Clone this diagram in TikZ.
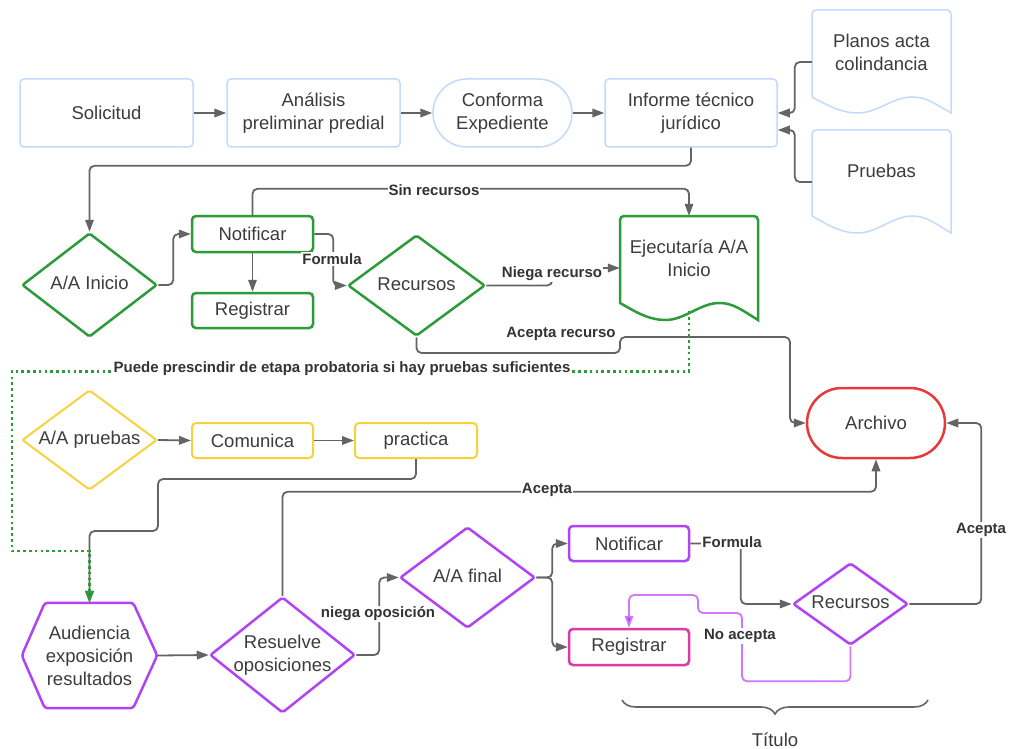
\documentclass[tikz,border=0pt]{standalone}
\usepackage{fontspec}
\setmainfont{Liberation Sans}
\usetikzlibrary{shapes.geometric,arrows.meta,calc,decorations.pathreplacing}
\definecolor{bluec}{HTML}{C4DAFD}
\definecolor{grnc}{HTML}{2E9B3B}
\definecolor{dgrnc}{HTML}{2F6B33}
\definecolor{yelc}{HTML}{F6D33C}
\definecolor{purc}{HTML}{B044F5}
\definecolor{pinkc}{HTML}{DE3AA6}
\definecolor{redc}{HTML}{E8383B}
\definecolor{lpurc}{HTML}{D176FF}
\definecolor{linec}{HTML}{646464}
\definecolor{txtc}{HTML}{3C3C3C}
\definecolor{lblc}{HTML}{333333}
\newcommand\mfont{\fontsize{18.5}{23}\selectfont}
\newcommand\lfont{\fontsize{15}{17}\selectfont\bfseries}
\newcommand\dtext[1]{\makebox[0pt]{\begin{tabular}{@{}c@{}}#1\end{tabular}}}
% document outline: style, xl, xr, yt, yb, wave amplitude
\newcommand\docoutline[6]{%
  \draw[#1] (#2,{#5-#6}) [rounded corners=4pt] -- (#2,#4) -- (#3,#4) -- (#3,{#5-8}) [sharp corners] -- (#3,#5)
    .. controls ({#2+0.88*(#3-#2)},{#5-0.6*#6}) and ({#2+0.82*(#3-#2)},{#5-#6}) .. ({#2+0.72*(#3-#2)},{#5-#6})
    .. controls ({#2+0.58*(#3-#2)},{#5-#6}) and ({#2+0.47*(#3-#2)},#5) .. ({#2+0.33*(#3-#2)},#5)
    .. controls ({#2+0.2*(#3-#2)},#5) and ({#2+0.1*(#3-#2)},{#5-0.55*#6}) .. (#2,{#5-#6}) -- cycle;}
\tikzset{
  base/.style={font=\mfont, text=txtc, inner sep=0pt, align=center},
  bluebox/.style={base, draw=bluec, line width=1.5pt, rounded corners=4pt},
  blueline/.style={draw=bluec, line width=1.5pt},
  grnbox/.style={base, draw=grnc, line width=2.5pt, rounded corners=4pt},
  grnline/.style={draw=grnc, line width=2.5pt},
  yelbox/.style={base, draw=yelc, line width=2pt, rounded corners=4pt},
  purbox/.style={base, draw=purc, line width=2.5pt, rounded corners=4pt},
  dia/.style={diamond, base, line width=2.5pt, rounded corners=2pt},
  conn/.style={draw=linec, line width=1.8pt, rounded corners=5pt,
    -{Triangle[length=12pt,width=8.5pt]}},
  lbl/.style={font=\lfont, text=lblc, fill=white, inner sep=1pt},
}
\begin{document}
\begin{tikzpicture}[x=1pt,y=-1pt]
\useasboundingbox[fill=white] (0,0) rectangle (1009,749);

% ---- row 1
\node[bluebox, minimum width=173pt, minimum height=68pt] (sol) at (106.5,113) {Solicitud};
\node[bluebox, minimum width=173pt, minimum height=68pt] (ana) at (313.5,113) {Análisis\\preliminar predial};
\node[bluebox, minimum width=139pt, minimum height=68pt, rounded corners=34pt] (conf) at (502.5,113) {Conforma\\Expediente};
\node[bluebox, minimum width=172pt, minimum height=68pt] (inf) at (691,113) {Informe técnico\\jurídico};
\node[base, minimum width=139pt, minimum height=84pt] (plan) at (881.5,52) {Planos acta\\colindancia};
\docoutline{blueline}{812}{951}{10}{113}{16}
\node[base, minimum width=139pt, minimum height=82pt] (prue) at (881.5,171) {Pruebas};
\docoutline{blueline}{812}{951}{130}{233}{17}

% ---- row 2
\node[dia, draw=grnc, minimum width=135pt, minimum height=104pt] (aai) at (89.5,285) {\dtext{A/A Inicio}};
\node[grnbox, minimum width=121pt, minimum height=36pt] (notg) at (252.5,234) {Notificar};
\node[grnbox, minimum width=121pt, minimum height=35pt] (regg) at (252.5,310.5) {Registrar};
\node[dia, draw=grnc, minimum width=137pt, minimum height=101pt] (recg) at (416.5,285.5) {\dtext{Recursos}};
\node[base, minimum width=138pt, minimum height=84pt] (ejec) at (689,258) {Ejecutaría A/A\\Inicio};
\docoutline{grnline}{620}{758}{216}{320}{17}
\node[base, draw=redc, line width=2.5pt, rounded corners=35pt, minimum width=138pt, minimum height=70pt] (arch) at (876,423) {Archivo};

% ---- row 3
\node[dia, draw=yelc, line width=2pt, minimum width=135pt, minimum height=100pt] (aap) at (89.5,440) {\dtext{A/A pruebas}};
\node[yelbox, minimum width=121pt, minimum height=35pt] (com) at (252.5,440.5) {Comunica};
\node[yelbox, minimum width=122pt, minimum height=35pt] (prac) at (416,440.5) {practica};

% ---- row 4
\node[base, minimum width=135pt, minimum height=105pt] (aud) at (89.5,655.5) {Audiencia\\exposición\\resultados};
\draw[draw=purc, line width=2.5pt, rounded corners=3pt]
  ([xshift=23pt]aud.north west) -- ([xshift=-24pt]aud.north east) -- (aud.east)
  -- ([xshift=-24pt]aud.south east) -- ([xshift=23pt]aud.south west) -- (aud.west) -- cycle;
\node[dia, draw=purc, minimum width=145pt, minimum height=116pt] (res) at (282.5,655) {\dtext{Resuelve\\oposiciones}};
\node[dia, draw=purc, minimum width=135pt, minimum height=101pt] (aaf) at (467.5,577.5) {\dtext{A/A final}};
\node[purbox, minimum width=120pt, minimum height=35pt] (notp) at (629,543.5) {Notificar};
\node[purbox, draw=pinkc, minimum width=120pt, minimum height=36pt] (regp) at (629,647) {Registrar};
\node[dia, draw=purc, minimum width=115pt, minimum height=82pt] (recp) at (850.5,604) {\dtext{Recursos}};

% ---- connectors
\draw[conn] (sol.east) -- (ana.west);
\draw[conn] (ana.east) -- (conf.west);
\draw[conn] (conf.east) -- (inf.west);
\draw[conn] ([yshift=-10pt]plan.west) -- ++(-17,0) |- (inf.east);
\draw[conn] ([yshift=-11pt]prue.west) -- ++(-17,0) |- ([yshift=-17pt]inf.east);
\draw[conn] (inf.south) -- ++(0,18) -| (aai.north);
\draw[conn] (aai.east) -- ++(15,0) |- (notg.west);
\draw[conn] (notg.south) -- (regg.north);
\draw[conn] (notg.east) -- ++(19,0) |- (recg.west);
\draw[conn] (notg.north) -- ++(0,-26) -| (ejec.north);
\draw[conn] (recg.east) -- ++(66,0) |- ([yshift=-10pt]ejec.west);
\draw[conn] (recg.south) |- (620,353) |- (790,337) |- (arch.west);
\draw[conn] (aap.east) -- (com.west);
\draw[conn] (com.east) -- (prac.west);
\draw[conn] (prac.south) -- ++(0,20) -| (158,531) -| (aud.north);
\draw[draw=grnc, line width=2.6pt, dash pattern=on 2.6pt off 3.2pt,
  -{Triangle[length=12pt,width=8.5pt,fill=dgrnc]}]
  ([yshift=-11pt]ejec.south) -- ++(0,60) -| (12,551) -| (aud.north);
\draw[conn] (aud.east) -- (res.west);
\draw[conn] (res.east) -- ++(23,0) |- (aaf.west);
\draw[conn] (res.north) -- ++(0,-104) -| (arch.south);
\draw[conn] (aaf.east) -- ++(16,0) |- (notp.west);
\draw[conn] (aaf.east) -- ++(16,0) |- (regp.west);
\draw[conn] (notp.east) -| ([xshift=-51pt]recp.west) -- (recp.west);
\draw[conn] (recp.east) -- ++(72,0) |- (arch.east);
\draw[conn, draw=lpurc, -{Triangle[length=12pt,width=8.5pt,fill=purc]}]
  (recp.south) -- ++(0,35) -| (742,613) -| (698,595) -| (regp.north);

% ---- labels
\node[lbl] (l1) at (434,190) {Sin recursos};
\node[lbl] (l2) at (332,259) {Formula};
\node[lbl] (l3) at (552,274) {Niega recurso};
\node[lbl, fill=none] (l4) at (561,334) {Acepta recurso};
\node[lbl] (l5) at (342,369) {Puede prescindir de etapa probatoria si hay pruebas suficientes};
\node[lbl] (l6) at (547,490) {Acepta};
\node[lbl] (l7) at (378,614) {niega oposición};
\node[lbl] (l8) at (732,542) {Formula};
\node[lbl] (l9) at (740,636) {No acepta};
\node[lbl] (l10) at (981,530) {Acepta};

% ---- brace and title
\coordinate (bl) at (622,700);
\coordinate (br) at (928,700);
\draw[draw=linec, line width=1.6pt, decorate, decoration={brace, mirror, amplitude=14pt}] (bl) -- (br);
\node[base] (tit) at (775,740) {Título};
\end{tikzpicture}
\end{document}
